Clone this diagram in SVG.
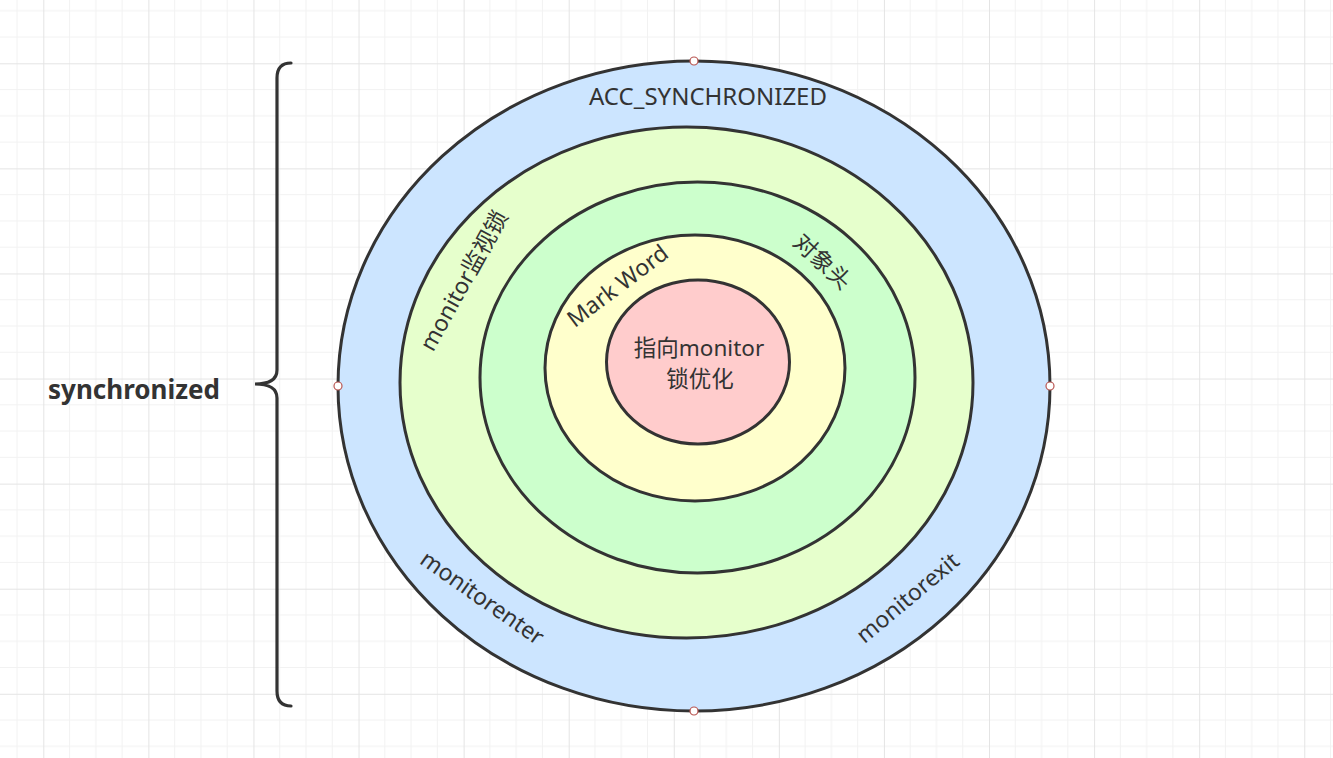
<svg xmlns="http://www.w3.org/2000/svg" width="1333" height="758" viewBox="0 0 1333 758">
<defs>
<pattern id="grid" x="43.3" y="63.3" width="105.08" height="105.08" patternUnits="userSpaceOnUse">
<path d="M26.27 0V105.08M52.54 0V105.08M78.81 0V105.08M0 26.27H105.08M0 52.54H105.08M0 78.81H105.08" stroke="#f2f2f2" stroke-width="1" fill="none"/>
<path d="M0.5 0V105.08M0 0.5H105.08" stroke="#e4e4e4" stroke-width="1" fill="none"/>
</pattern>
</defs>
<style>
.ring{stroke:#333333;stroke-width:3}
.t{font-family:"Noto Sans","Noto Sans CJK SC",sans-serif;font-size:23px;fill:#333333}
.h{fill:#ffffff;stroke:#b85450;stroke-width:1.2}
</style>
<rect width="1333" height="758" fill="#ffffff"/>
<rect width="1333" height="758" fill="url(#grid)"/>

<g id="brace">
<path d="M291,63 Q277,63 277,78 L277,370 Q277,384 255,384 Q277,384 277,398 L277,691 Q277,706 291,706" fill="none" stroke="#333333" stroke-width="3.2" stroke-linecap="round"/>
<text x="134" y="399" class="t" style="font-weight:bold;font-size:26px" text-anchor="middle">synchronized</text>
</g>

<g id="ring-acc">
<ellipse cx="694" cy="386" rx="356" ry="325" fill="#cce5ff" class="ring"/>
<text x="708" y="105" class="t" style="font-size:24px" text-anchor="middle">ACC_SYNCHRONIZED</text>
<text class="t" text-anchor="middle" dominant-baseline="central" transform="translate(483,597) rotate(35)">monitorenter</text>
<text class="t" text-anchor="middle" dominant-baseline="central" transform="translate(907,597) rotate(-40)">monitorexit</text>
</g>

<g id="ring-monitor">
<ellipse cx="686.5" cy="382.5" rx="286.5" ry="255.5" fill="#e6ffcc" class="ring"/>
<text class="t" text-anchor="middle" dominant-baseline="central" transform="translate(463,280) rotate(-61)">monitor监视锁</text>
</g>

<g id="ring-header">
<ellipse cx="697.5" cy="377.5" rx="217.5" ry="195.5" fill="#ccffcc" class="ring"/>
<text class="t" text-anchor="middle" dominant-baseline="central" transform="translate(823,261) rotate(43)">对象头</text>
</g>

<g id="ring-markword">
<ellipse cx="695" cy="368" rx="150" ry="133" fill="#ffffcc" class="ring"/>
<text class="t" text-anchor="middle" dominant-baseline="central" transform="translate(617,285) rotate(-37)">Mark Word</text>
</g>

<g id="core">
<ellipse cx="698" cy="362" rx="91.5" ry="82" fill="#ffcccc" class="ring"/>
<text x="699" y="356" class="t" style="font-size:22.5px" text-anchor="middle">指向monitor</text>
<text x="700" y="387" class="t" style="font-size:22.5px" text-anchor="middle">锁优化</text>
</g>

<g id="handles">
<circle cx="694" cy="61" r="4" class="h"/>
<circle cx="338" cy="386" r="4" class="h"/>
<circle cx="1050" cy="386" r="4" class="h"/>
<circle cx="694" cy="711" r="4" class="h"/>
</g>
</svg>
